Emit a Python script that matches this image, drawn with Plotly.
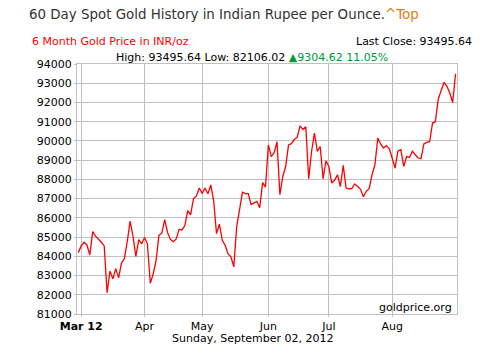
import pandas as pd
import plotly.graph_objects as go

# Trading days Feb 29 - Aug 31, 2012 (Good Friday excluded)
dates = [d.strftime("%Y-%m-%d") for d in pd.bdate_range("2012-02-29", "2012-08-31") if d.strftime("%Y-%m-%d") != "2012-04-06"]

prices = [
    84191.02, 84540, 84730, 84590, 84070, 85280, 85050, 84910, 84730, 84540,
    82106.02, 83230, 82830, 83360, 82880, 83650, 83880, 84760, 85830, 85030,
    84000, 84870, 84650, 84980, 84650, 82600, 83080, 83770, 85100, 85200,
    85910, 85240, 84880, 84760, 84900, 85400, 85370, 85600, 86380, 86150,
    87000, 87130, 87550, 87270, 87550, 87250, 87710, 86900, 85180, 85670,
    84830, 84570, 84120, 83970, 83450, 85540, 86430, 87330, 87260, 87260,
    86690, 86790, 86860, 86530, 87830, 87600, 89790, 89180, 89390, 89960,
    87200, 88150, 88670, 89790, 89860, 90070, 90180, 90780, 90590, 90740,
    88030, 89450, 90410, 89450, 89710, 88030, 88970, 88670, 87810, 87950,
    88240, 87630, 88730, 87550, 87500, 87530, 87760, 87630, 87480, 87100,
    87380, 87520, 88240, 88760, 90150, 89830, 89630, 89760, 89590, 89100,
    88580, 89480, 89540, 88670, 89190, 89140, 89470, 89280, 89110, 89070,
    89840, 89920, 89960, 90930, 91000, 92180, 92580, 93050, 92840, 92490,
    92000, 93495.64,
]

tick_dates = ["2012-03-01", "2012-04-02", "2012-05-01", "2012-06-01", "2012-07-02", "2012-08-01"]
tick_labels = ["<b>Mar 12</b>", "Apr", "May", "Jun", "Jul", "Aug"]
y_ticks = list(range(81000, 94001, 1000))

title_text = "60 Day Spot Gold History in Indian Rupee per Ounce."
top_text = "^Top"
subtitle = "6 Month Gold Price in INR/oz"
last_close = "Last Close: 93495.64"
high_low = "High: 93495.64 Low: 82106.02 "
change = "\u25B29304.62 11.05%"
date_text = "Sunday, September 02, 2012"
source = "goldprice.org"

FONT = "DejaVu Sans, Verdana, sans-serif"
GRID = "#c0c0c0"

fig = go.Figure()
fig.add_trace(go.Scatter(
    x=dates, y=prices, mode="lines",
    line=dict(color="#ff0000", width=1.3),
    hoverinfo="skip", showlegend=False,
))

fig.update_layout(
    width=472, height=351,
    margin=dict(l=69, r=23, t=56, b=45),
    paper_bgcolor="white", plot_bgcolor="white",
    font=dict(family=FONT, size=11, color="#000000"),
    xaxis=dict(
        type="category",
        range=[-0.45, len(dates) - 0.5],
        tickmode="array", tickvals=tick_dates, ticktext=tick_labels,
        showgrid=True, gridcolor=GRID, gridwidth=1,
        showline=True, linecolor=GRID, linewidth=1, mirror=True,
        ticks="outside", ticklen=2, tickcolor=GRID,
        tickfont=dict(size=11, color="#000000"),
        zeroline=False,
    ),
    yaxis=dict(
        range=[81000, 94000],
        tickmode="array", tickvals=y_ticks, tickformat="d",
        showgrid=True, gridcolor=GRID, gridwidth=1,
        showline=True, linecolor=GRID, linewidth=1, mirror=True,
        ticks="outside", ticklen=2, tickcolor=GRID,
        tickfont=dict(size=11, color="#000000"),
        zeroline=False,
    ),
)

def ann(text, x, y, xanchor, size=11, color="#000000"):
    fig.add_annotation(text=text, x=x, y=y, xref="paper", yref="paper",
                       xanchor=xanchor, yanchor="middle", showarrow=False,
                       font=dict(family=FONT, size=size, color=color))

ann(title_text + "<span style='color:#e07d10'>" + top_text + "</span>",
    (27 - 77) / 380, (314 - 14) / 250, "left", size=13.4, color="#333333")
ann(subtitle, (30 - 77) / 380, (314 - 42) / 250, "left", color="#ff0000")
ann(last_close, (474 - 77) / 380, (314 - 42) / 250, "right")
ann(high_low + "<span style='color:#009933'>" + change + "</span>",
    (251.5 - 77) / 380, (314 - 58) / 250, "center")
ann(date_text, (252 - 77) / 380, (314 - 338) / 250, "center")
ann(source, (454 - 77) / 380, (314 - 307) / 250, "right")

fig.write_html("out.html")
